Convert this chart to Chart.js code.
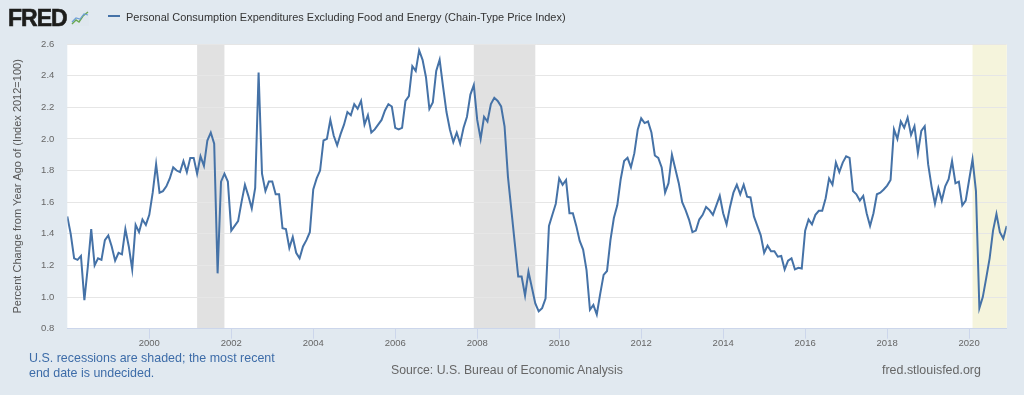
<!DOCTYPE html>
<html>
<head>
<meta charset="utf-8">
<script src="https://cdn.jsdelivr.net/npm/chart.js@4.4.1/dist/chart.umd.min.js"></script>
<style>
html,body{margin:0;padding:0;background:#e1e9f0;width:1024px;height:395px;overflow:hidden;}
#wrap{position:relative;width:1024px;height:395px;}
#c{position:absolute;left:0;top:0;}
.t{position:absolute;white-space:nowrap;font-family:"Liberation Sans",Arial,sans-serif;}
</style>
</head>
<body>
<div id="wrap">
<canvas id="c" width="1024" height="395"></canvas>
<div class="t" id="logo" style="left:8px;font-weight:bold;font-size:23px;line-height:23px;top:7px;color:#1d1d1b;letter-spacing:-1px;-webkit-text-stroke:0.6px #1d1d1b;">FRED</div>
<svg style="position:absolute;left:71px;top:10px" width="18" height="16" viewBox="0 0 18 16">
  <rect x="0" y="0" width="18" height="16" fill="#dfe7ee"/>
  <polyline points="1,14 5,10 8,12 12,6 17,2" fill="none" stroke="#6aa84f" stroke-width="1.4"/>
  <polyline points="1,12 5,8 9,9 13,4 17,5" fill="none" stroke="#6f9fd8" stroke-width="1.2"/>
</svg>
<div style="position:absolute;left:108px;top:15px;width:12px;height:2px;background:#4572a7"></div>
<div class="t" id="title" style="color:#333;font-size:12px">Personal Consumption Expenditures Excluding Food and Energy (Chain-Type Price Index)</div>
<div class="t" id="note1" style="color:#3d6ca8;font-size:12px">U.S. recessions are shaded; the most recent</div>
<div class="t" id="note2" style="color:#3d6ca8;font-size:12px">end date is undecided.</div>
<div class="t" id="source" style="color:#666;font-size:12px">Source: U.S. Bureau of Economic Analysis</div>
<div class="t" id="site" style="color:#666;font-size:12px">fred.stlouisfed.org</div>
</div>
<script>
// ---- data ----
const startYear = 1998;           // first observation: January 1998, monthly
const tickYears = [2000, 2002, 2004, 2006, 2008, 2010, 2012, 2014, 2016, 2018, 2020];
const yTicks = [0.8, 1.0, 1.2, 1.4, 1.6, 1.8, 2.0, 2.2, 2.4, 2.6];
const recessions = [["2001-03", "2001-11"], ["2007-12", "2009-06"], ["2020-02", null]];
const pce1998 = [1.51, 1.40, 1.245, 1.235, 1.26, 0.98, 1.19, 1.43, 1.20, 1.245, 1.235, 1.36];
const pce1999 = [1.39, 1.32, 1.23, 1.28, 1.27, 1.43, 1.32, 1.175, 1.456, 1.41, 1.49, 1.456];
const pce2000 = [1.52, 1.66, 1.84, 1.66, 1.67, 1.70, 1.75, 1.82, 1.80, 1.79, 1.86, 1.79];
const pce2001 = [1.88, 1.88, 1.78, 1.89, 1.83, 1.99, 2.04, 1.97, 1.15, 1.73, 1.78, 1.73];
const pce2002 = [1.42, 1.45, 1.48, 1.60, 1.71, 1.64, 1.56, 1.69, 2.42, 1.78, 1.67, 1.73];
const pce2003 = [1.73, 1.65, 1.65, 1.435, 1.43, 1.31, 1.38, 1.28, 1.245, 1.32, 1.36, 1.41];
const pce2004 = [1.68, 1.75, 1.80, 1.99, 2.00, 2.12, 2.02, 1.96, 2.03, 2.09, 2.17, 2.15];
const pce2005 = [2.22, 2.19, 2.24, 2.09, 2.15, 2.04, 2.06, 2.09, 2.12, 2.18, 2.22, 2.205];
const pce2006 = [2.07, 2.06, 2.07, 2.24, 2.27, 2.46, 2.43, 2.56, 2.50, 2.39, 2.19, 2.23];
const pce2007 = [2.43, 2.50, 2.33, 2.17, 2.06, 1.98, 2.04, 1.97, 2.07, 2.14, 2.28, 2.34];
const pce2008 = [2.12, 2.00, 2.14, 2.11, 2.22, 2.26, 2.24, 2.205, 2.08, 1.76, 1.55, 1.34];
const pce2009 = [1.13, 1.13, 1.01, 1.16, 1.06, 0.96, 0.91, 0.93, 0.99, 1.45, 1.52, 1.59];
const pce2010 = [1.75, 1.71, 1.74, 1.53, 1.53, 1.45, 1.355, 1.30, 1.17, 0.92, 0.95, 0.89];
const pce2011 = [1.02, 1.14, 1.165, 1.36, 1.50, 1.58, 1.745, 1.86, 1.88, 1.82, 1.91, 2.06];
const pce2012 = [2.13, 2.10, 2.11, 2.04, 1.895, 1.88, 1.82, 1.66, 1.72, 1.90, 1.81, 1.72];
const pce2013 = [1.60, 1.55, 1.49, 1.41, 1.42, 1.49, 1.52, 1.57, 1.55, 1.52, 1.58, 1.64];
const pce2014 = [1.53, 1.46, 1.57, 1.66, 1.71, 1.65, 1.71, 1.635, 1.63, 1.51, 1.45, 1.39];
const pce2015 = [1.28, 1.325, 1.29, 1.29, 1.255, 1.26, 1.175, 1.23, 1.245, 1.175, 1.185, 1.18];
const pce2016 = [1.42, 1.49, 1.46, 1.52, 1.545, 1.545, 1.625, 1.75, 1.71, 1.85, 1.79, 1.85];
const pce2017 = [1.89, 1.88, 1.67, 1.65, 1.61, 1.64, 1.53, 1.45, 1.53, 1.65, 1.66, 1.68];
const pce2018 = [1.705, 1.74, 2.06, 2.00, 2.11, 2.07, 2.135, 2.025, 2.08, 1.91, 2.05, 2.08];
const pce2019 = [1.84, 1.70, 1.59, 1.69, 1.61, 1.70, 1.745, 1.86, 1.72, 1.73, 1.58, 1.61];
const pce2020 = [1.74, 1.87, 1.67, 0.93, 1.00, 1.12, 1.245, 1.42, 1.525, 1.41, 1.37, 1.45];

const pceCore = [].concat(pce1998, pce1999, pce2000, pce2001, pce2002, pce2003, pce2004,
  pce2005, pce2006, pce2007, pce2008, pce2009, pce2010, pce2011, pce2012, pce2013, pce2014,
  pce2015, pce2016, pce2017, pce2018, pce2019, pce2020);

function monthIndex(s) { const [y, m] = s.split('-').map(Number); return (y - startYear) * 12 + (m - 1); }

// ---- text placement (fit widths) ----
function place(id, x, cy, w, fs) {
  const el = document.getElementById(id);
  el.style.left = x + 'px';
  if (!fs) {
    const base = parseFloat(el.style.fontSize);
    const mw = el.getBoundingClientRect().width;
    fs = base * w / mw;
  }
  el.style.fontSize = fs + 'px';
  el.style.lineHeight = fs + 'px';
  el.style.top = (cy - 0.49 * fs) + 'px';
  return fs;
}
place('title', 126, 17, 440);
const nfs = place('note1', 29, 358, 246);
place('note2', 29, 373.5, 0, nfs);
place('source', 391, 370, 232);
place('site', 882, 370, 99);

// ---- chart ----
const bgPlugin = {
  id: 'bgBands',
  beforeDraw(chart) {
    const { ctx, chartArea: { left, top, right, bottom }, scales: { x } } = chart;
    ctx.save();
    ctx.fillStyle = '#ffffff';
    ctx.fillRect(left, top, right - left, bottom - top);
    recessions.forEach(r => {
      const x0 = x.getPixelForValue(monthIndex(r[0]));
      const x1 = r[1] ? x.getPixelForValue(monthIndex(r[1])) : right;
      ctx.fillStyle = r[1] ? '#e1e1e1' : '#f5f4dc';
      ctx.fillRect(x0, top, x1 - x0, bottom - top);
    });
    ctx.restore();
  }
};

const tickFont = { family: '"Liberation Sans", Arial, sans-serif', size: 9.5 };

new Chart(document.getElementById('c'), {
  type: 'line',
  data: {
    datasets: [{
      label: 'Personal Consumption Expenditures Excluding Food and Energy (Chain-Type Price Index)',
      data: pceCore.map((v, i) => ({ x: i, y: v })),
      borderColor: '#4572a7',
      borderWidth: 2,
      pointRadius: 0,
      tension: 0,
      fill: false
    }]
  },
  options: {
    responsive: false,
    animation: false,
    devicePixelRatio: 1,
    layout: { padding: { left: 0, right: 17.3, top: 44, bottom: 0 } },
    plugins: { legend: { display: false }, tooltip: { enabled: false } },
    scales: {
      x: {
        type: 'linear',
        min: 0,
        max: pceCore.length - 1,
        afterBuildTicks: (s) => { s.ticks = tickYears.map(y => ({ value: (y - startYear) * 12 })); },
        afterFit: (s) => { s.height = 66.3; },
        grid: { drawOnChartArea: false, drawTicks: true, tickLength: 10, tickColor: '#ccd6eb', color: '#ccd6eb' },
        border: { display: true, color: '#ccd6eb' },
        ticks: {
          autoSkip: false, maxRotation: 0, padding: -1, color: '#666', font: tickFont,
          callback: (v) => String(startYear + Math.round(v) / 12)
        }
      },
      y: {
        min: 0.8,
        max: 2.6,
        afterBuildTicks: (s) => { s.ticks = yTicks.map(v => ({ value: v })); },
        afterFit: (s) => { s.width = 67.3; },
        grid: { color: '#e6e6e6', drawTicks: false },
        border: { display: false },
        ticks: { padding: 13, color: '#666', font: tickFont, callback: (v) => Number(v).toFixed(1) },
        title: {
          display: true,
          text: 'Percent Change from Year Ago of (Index 2012=100)',
          color: '#555',
          font: { family: '"Liberation Sans", Arial, sans-serif', size: 11 },
          padding: { top: 11, bottom: 0 }
        }
      }
    }
  },
  plugins: [bgPlugin]
});
</script>
</body>
</html>
